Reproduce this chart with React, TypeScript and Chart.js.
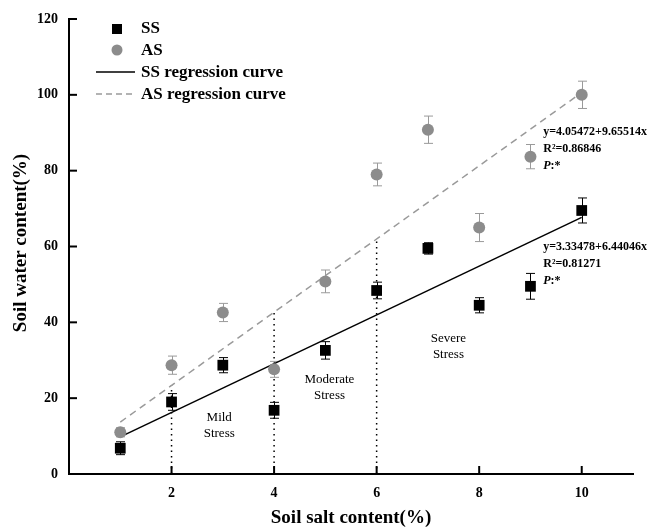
import React, { useEffect, useRef } from "react";
import { Chart, registerables } from "chart.js";

Chart.register(...registerables);

const xValues = [1, 2, 3, 4, 5, 6, 7, 8, 9, 10];
const ssValues = [6.8, 19, 28.7, 16.8, 32.6, 48.4, 59.5, 44.5, 49.5, 69.5];
const ssErrors = [1.7, 2.2, 2, 2.1, 2.3, 2.2, 1.5, 2, 3.4, 3.3];
const asValues = [11, 28.7, 42.6, 27.6, 50.8, 79, 90.8, 65, 83.7, 100];
const asErrors = [1.2, 2.4, 2.4, 2.1, 3, 3, 3.6, 3.7, 3.2, 3.6];

const regX = [1, 10];
const ssRegY = [9.8, 67.7];
const asRegY = [13.7, 100.6];

const stressX = [2, 4, 6];
const stressTopY = [23.4, 42.7, 62];

const xTicks = [2, 4, 6, 8, 10];
const yTicks = [0, 20, 40, 60, 80, 100, 120];

const ssEquation = ["y=3.33478+6.44046x", "R²=0.81271", "P:*"];
const asEquation = ["y=4.05472+9.65514x", "R²=0.86846", "P:*"];
const stressLabels = [
  { x: 2.93, y: 14.8, lines: ["Mild", "Stress"] },
  { x: 5.08, y: 25, lines: ["Moderate", "Stress"] },
  { x: 7.4, y: 35.8, lines: ["Severe", "Stress"] },
];

const SERIF = "'Liberation Serif', 'Times New Roman', serif";
const GRAY = "#8c8c8c";
const LINE_GRAY = "#9a9a9a";

const errorBarPlugin = {
  id: "errorBars",
  beforeDatasetsDraw(chart: any) {
    const { ctx, scales } = chart;
    const xs = scales.x;
    const ys = scales.y;
    const draw = (vals: number[], errs: number[], color: string) => {
      ctx.save();
      ctx.strokeStyle = color;
      ctx.lineWidth = 1;
      xValues.forEach((xv, i) => {
        const px = Math.round(xs.getPixelForValue(xv)) + 0.5;
        const top = ys.getPixelForValue(vals[i] + errs[i]);
        const bot = ys.getPixelForValue(vals[i] - errs[i]);
        ctx.beginPath();
        ctx.moveTo(px, top);
        ctx.lineTo(px, bot);
        ctx.moveTo(px - 4.5, top);
        ctx.lineTo(px + 4.5, top);
        ctx.moveTo(px - 4.5, bot);
        ctx.lineTo(px + 4.5, bot);
        ctx.stroke();
      });
      ctx.restore();
    };
    draw(asValues, asErrors, LINE_GRAY);
    draw(ssValues, ssErrors, "#000");
  },
};

const decorPlugin = {
  id: "decor",
  afterDraw(chart: any) {
    const { ctx, scales, chartArea } = chart;
    const xs = scales.x;
    const ys = scales.y;
    ctx.save();
    // inward ticks
    ctx.strokeStyle = "#000";
    ctx.lineWidth = 2;
    xTicks.forEach((t) => {
      const px = xs.getPixelForValue(t);
      ctx.beginPath();
      ctx.moveTo(px, chartArea.bottom);
      ctx.lineTo(px, chartArea.bottom - 8);
      ctx.stroke();
    });
    yTicks.forEach((t) => {
      const py = ys.getPixelForValue(t);
      ctx.beginPath();
      ctx.moveTo(chartArea.left, py);
      ctx.lineTo(chartArea.left + 8, py);
      ctx.stroke();
    });

    // axis titles
    ctx.fillStyle = "#000";
    ctx.font = `bold 19px ${SERIF}`;
    ctx.textAlign = "center";
    ctx.textBaseline = "middle";
    ctx.fillText("Soil salt content(%)", 351, 518);
    ctx.save();
    ctx.translate(21, 243);
    ctx.rotate(-Math.PI / 2);
    ctx.fillText("Soil water content(%)", 0, 0);
    ctx.restore();

    // legend
    ctx.font = `bold 17px ${SERIF}`;
    ctx.textAlign = "left";
    ctx.textBaseline = "middle";
    ctx.fillStyle = "#000";
    ctx.fillRect(112, 24, 10, 10);
    ctx.fillText("SS", 141, 29);
    ctx.fillStyle = GRAY;
    ctx.beginPath();
    ctx.arc(117, 50, 5.5, 0, Math.PI * 2);
    ctx.fill();
    ctx.fillStyle = "#000";
    ctx.fillText("AS", 141, 51);
    ctx.strokeStyle = "#000";
    ctx.lineWidth = 1.5;
    ctx.beginPath();
    ctx.moveTo(96, 72);
    ctx.lineTo(135, 72);
    ctx.stroke();
    ctx.fillText("SS regression curve", 141, 73);
    ctx.strokeStyle = LINE_GRAY;
    ctx.setLineDash([6, 4]);
    ctx.beginPath();
    ctx.moveTo(96, 94);
    ctx.lineTo(135, 94);
    ctx.stroke();
    ctx.setLineDash([]);
    ctx.fillText("AS regression curve", 141, 95);

    // equations
    const drawEq = (lines: string[], xv: number, yTop: number) => {
      const px = xs.getPixelForValue(xv);
      const py0 = ys.getPixelForValue(yTop);
      ctx.textAlign = "left";
      ctx.textBaseline = "middle";
      ctx.fillStyle = "#000";
      lines.forEach((ln, i) => {
        const py = py0 + i * 17;
        if (ln.startsWith("P")) {
          ctx.font = `italic bold 12px ${SERIF}`;
          ctx.fillText("P", px, py);
          const w = ctx.measureText("P").width;
          ctx.font = `bold 12px ${SERIF}`;
          ctx.fillText(ln.slice(1), px + w, py);
        } else {
          ctx.font = `bold 12px ${SERIF}`;
          ctx.fillText(ln, px, py);
        }
      });
    };
    drawEq(asEquation, 9.25, 90.3);
    drawEq(ssEquation, 9.25, 59.8);

    // stress labels
    ctx.font = `13px ${SERIF}`;
    ctx.textAlign = "center";
    ctx.textBaseline = "middle";
    stressLabels.forEach((s) => {
      const px = xs.getPixelForValue(s.x);
      const py = ys.getPixelForValue(s.y);
      s.lines.forEach((ln, i) => ctx.fillText(ln, px, py + i * 16));
    });
    ctx.restore();
  },
};

export default function App() {
  const ref = useRef<HTMLCanvasElement | null>(null);
  useEffect(() => {
    if (!ref.current) return;
    const datasets: any[] = [
      {
        type: "scatter",
        label: "SS",
        data: xValues.map((x, i) => ({ x, y: ssValues[i] })),
        pointStyle: "rect",
        pointRadius: 7.6,
        backgroundColor: "#000",
        borderColor: "#000",
        borderWidth: 0,
        order: 0,
      },
      {
        type: "scatter",
        label: "AS",
        data: xValues.map((x, i) => ({ x, y: asValues[i] })),
        pointStyle: "circle",
        pointRadius: 6,
        backgroundColor: GRAY,
        borderColor: GRAY,
        borderWidth: 0,
        order: 0,
      },
      {
        type: "line",
        label: "SS regression curve",
        data: regX.map((x, i) => ({ x, y: ssRegY[i] })),
        borderColor: "#000",
        borderWidth: 1.5,
        pointRadius: 0,
        fill: false,
        order: 1,
      },
      {
        type: "line",
        label: "AS regression curve",
        data: regX.map((x, i) => ({ x, y: asRegY[i] })),
        borderColor: LINE_GRAY,
        borderWidth: 1.5,
        borderDash: [7, 5],
        pointRadius: 0,
        fill: false,
        order: 1,
      },
      ...stressX.map((x, i) => ({
        type: "line",
        label: "stress" + x,
        data: [
          { x, y: 0 },
          { x, y: stressTopY[i] },
        ],
        borderColor: "#000",
        borderWidth: 1.5,
        borderDash: [1.5, 4],
        pointRadius: 0,
        fill: false,
        order: 2,
      })),
    ];
    const chart = new Chart(ref.current, {
      type: "scatter",
      data: { datasets },
      options: {
        responsive: false,
        animation: false,
        layout: { padding: { top: 19, right: 17, left: 0, bottom: 0 } },
        plugins: { legend: { display: false }, tooltip: { enabled: false } },
        scales: {
          x: {
            type: "linear",
            min: 0,
            max: 11,
            grid: { display: false },
            border: { display: true, color: "#000", width: 2 },
            afterBuildTicks: (scale: any) => {
              scale.ticks = xTicks.map((v) => ({ value: v }));
            },
            afterFit: (scale: any) => {
              scale.height = 55;
            },
            ticks: {
              color: "#000",
              padding: 3,
              font: { family: SERIF, size: 14, weight: "bold" },
              maxRotation: 0,
            },
          },
          y: {
            type: "linear",
            min: 0,
            max: 120,
            grid: { display: false },
            border: { display: true, color: "#000", width: 2 },
            afterBuildTicks: (scale: any) => {
              scale.ticks = yTicks.map((v) => ({ value: v }));
            },
            afterFit: (scale: any) => {
              scale.width = 69;
            },
            ticks: {
              color: "#000",
              padding: 3,
              font: { family: SERIF, size: 14, weight: "bold" },
            },
          },
        },
      },
      plugins: [errorBarPlugin, decorPlugin],
    } as any);
    return () => chart.destroy();
  }, []);
  return (
    <div style={{ position: "absolute", left: 0, top: 0, width: 650, height: 529, background: "#fff" }}>
      <canvas ref={ref} width={650} height={529} style={{ width: 650, height: 529 }} />
    </div>
  );
}
